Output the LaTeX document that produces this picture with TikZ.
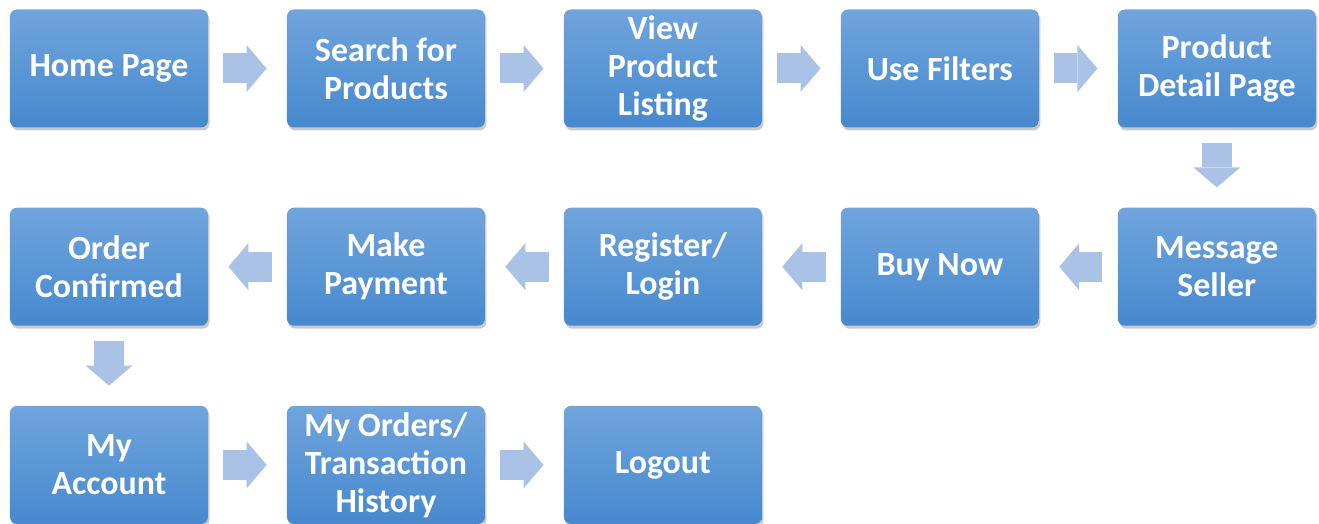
\documentclass[tikz,border=0pt]{standalone}
\usepackage{fontspec}
\setmainfont{Carlito}
\usetikzlibrary{positioning, shadows, arrows.meta}
\definecolor{cajaarriba}{RGB}{112,164,221}
\definecolor{cajaabajo}{RGB}{70,137,206}
\definecolor{flechaazul}{RGB}{170,194,229}
\tikzset{
    paso/.style={rectangle, rounded corners=0.14cm, top color=cajaarriba, bottom color=cajaabajo,
        minimum width=3.96cm, minimum height=2.36cm, inner sep=0pt, align=center,
        text=white, font=\fontsize{19.3}{21.6}\selectfont\bfseries,
        drop shadow={shadow xshift=0.03cm, shadow yshift=-0.06cm, opacity=0.35, fill=black!60}}, % cajas azules
    flecha/.style={draw=flechaazul, line width=0.6cm,
        -{Triangle[width=0.94cm, length=0.4cm, line width=0pt]},
        shorten <=0.3cm, shorten >=0.4cm}, % flechas gruesas entre cajas
    node distance=1.59cm and 1.565cm % separacion entre cajas
}
\begin{document}
\begin{tikzpicture}
		\useasboundingbox (0,0) rectangle (26.38,-10.48);
		% Pasos
		\node[paso] (HP) at (2.18,-1.37) {Home Page};
		\node[paso, right=of HP] (SP) {Search for\\Products};
		\node[paso, right=of SP] (VPL) {View\\Product\\Listing};
		\node[paso, right=of VPL] (UF) {Use Filters};
		\node[paso, right=of UF] (PDP) {Product\\Detail Page};
		\node[paso, below=of PDP] (MS) {Message\\Seller};
		\node[paso, left=of MS] (BN) {Buy Now};
		\node[paso, left=of BN] (RL) {Register/\\Login};
		\node[paso, left=of RL] (MP) {Make\\Payment};
		\node[paso, left=of MP] (OC) {Order\\Confirmed};
		\node[paso, below=of OC] (MA) {My\\Account};
		\node[paso, right=of MA] (MO) {My Orders/\\Transaction\\History};
		\node[paso, right=of MO] (LO) {Logout};
		
		% Flechas
		\draw[flecha] (HP) -- (SP);
		\draw[flecha] (SP) -- (VPL);
		\draw[flecha] (VPL) -- (UF);
		\draw[flecha] (UF) -- (PDP);
		\draw[flecha] (PDP) -- (MS);
		\draw[flecha] (MS) -- (BN);
		\draw[flecha] (BN) -- (RL);
		\draw[flecha] (RL) -- (MP);
		\draw[flecha] (MP) -- (OC);
		\draw[flecha] (OC) -- (MA);
		\draw[flecha] (MA) -- (MO);
		\draw[flecha] (MO) -- (LO);
	\end{tikzpicture}
\end{document}
